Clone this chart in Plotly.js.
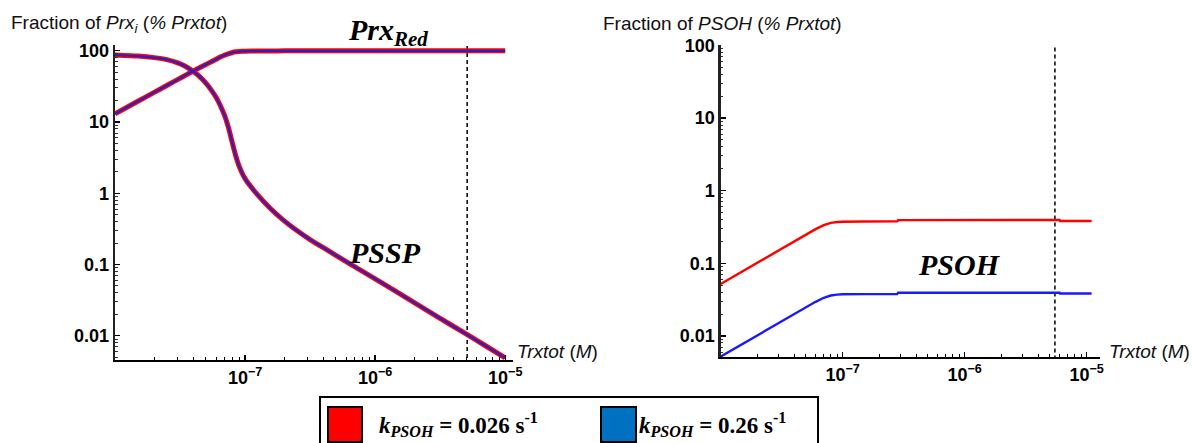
<!DOCTYPE html>
<html>
<head>
<meta charset="utf-8">
<script src="https://cdn.plot.ly/plotly-3.0.1.min.js"></script>
<style>
  html, body { margin: 0; padding: 0; background: #fff; }
  #chart { width: 1192px; height: 443px; }
</style>
</head>
<body>
<div id="chart"></div>
<script>
// Left panel: Prx fractions vs total Trx (both k values overlap)
const trxLeft = [1e-8, 1.5e-8, 2e-8, 2.5e-8, 3e-8, 3.5e-8, 4e-8, 4.5e-8, 5e-8, 5.5e-8, 6e-8, 6.5e-8,
                 7e-8, 7.5e-8, 8e-8, 8.5e-8, 9e-8, 1e-7, 1.26e-7, 1.58e-7, 2e-7, 2.5e-7, 3.16e-7, 4e-7,
                 6.3e-7, 1e-6, 2e-6, 3e-6, 5e-6, 7e-6, 1e-5];
const prxRed  = [13, 19.5, 26, 32.5, 39, 45.5, 52, 58, 64, 70, 76, 82,
                 87, 91, 94.5, 96.5, 97.5, 98.4, 99, 99.3, 99.5, 99.6, 99.6, 99.6,
                 99.6, 99.6, 99.6, 99.6, 99.6, 99.6, 99.6];
const pssp    = [87, 84, 80, 75, 68, 60, 51, 43, 35, 28, 22, 16.5,
                 12, 8.0, 5.0, 3.3, 2.4, 1.6, 0.93, 0.60, 0.41, 0.30, 0.224, 0.172,
                 0.104, 0.063, 0.0292, 0.0186, 0.0106, 0.0073, 0.0049];

// Right panel: PSOH fraction for the two k values
const trxRight = [1e-8, 2e-8, 3e-8, 4e-8, 5e-8, 6e-8, 7e-8, 8e-8, 9e-8, 1e-7, 1.5e-7,
                  2.8e-7, 2.85e-7, 1e-6, 6e-6, 6.05e-6, 1.1e-5];
const psohSlow = [0.052, 0.102, 0.152, 0.2, 0.25, 0.295, 0.335, 0.36, 0.37, 0.374, 0.376,
                  0.377, 0.393, 0.394, 0.394, 0.383, 0.383];
const psohFast = [0.0052, 0.0102, 0.0152, 0.02, 0.025, 0.0295, 0.0335, 0.036, 0.037, 0.0374, 0.0376,
                  0.0377, 0.0393, 0.0394, 0.0394, 0.0383, 0.0383];

// Axis ticks
const xTickVals = [1e-7, 1e-6, 1e-5];
const xTickText = ['10<sup>\u22127</sup>', '10<sup>\u22126</sup>', '10<sup>\u22125</sup>'];
const yTickVals = [0.01, 0.1, 1, 10, 100];
const yTickText = ['0.01', '0.1', '1', '10', '100'];

// Reference concentration marked with a dashed line in each panel
const refTrxLeft = [5.1e-6, 5.1e-6];
const refTrxRight = [5.5e-6, 5.5e-6];
const refSpan = [1e-3, 1e3];

const legendLabels = ['<i>k</i><sub><i>PSOH</i></sub> = 0.026 s<sup>-1</sup>',
                      '<i>k</i><sub><i>PSOH</i></sub> = 0.26 s<sup>-1</sup>'];
const RED = '#ff0000';
const BLUE_LINE = '#1a1aff';
const BLUE_CORE = '#2222cc';
const BLUE_KEY = '#0070c0';

const W = 1192, H = 443;
const px = x => x / W;
const py = y => 1 - y / H;

const SANS = '"Liberation Sans Narrow", "Arial Narrow", "Liberation Sans", Arial, sans-serif';
const SERIF = '"Liberation Serif", "Times New Roman", serif';

function minorTicks(lo, hi) {
  const out = [];
  for (let e = lo; e < hi; e++) {
    for (let k = 2; k <= 9; k++) out.push(k * Math.pow(10, e));
  }
  return out;
}

const dashLine = { color: '#000', width: 1.5, dash: '4px,3px' };
const smooth = { shape: 'spline', smoothing: 0.4 };

const traces = [
  { x: refTrxLeft, y: refSpan, xaxis: 'x', yaxis: 'y', mode: 'lines', line: dashLine },
  { x: refTrxRight, y: refSpan, xaxis: 'x2', yaxis: 'y2', mode: 'lines', line: dashLine },
  { x: trxLeft, y: prxRed, xaxis: 'x', yaxis: 'y', mode: 'lines', line: Object.assign({ color: RED, width: 5 }, smooth) },
  { x: trxLeft, y: pssp,   xaxis: 'x', yaxis: 'y', mode: 'lines', line: Object.assign({ color: RED, width: 5 }, smooth) },
  { x: trxLeft, y: prxRed, xaxis: 'x', yaxis: 'y', mode: 'lines', line: Object.assign({ color: BLUE_CORE, width: 2.2 }, smooth) },
  { x: trxLeft, y: pssp,   xaxis: 'x', yaxis: 'y', mode: 'lines', line: Object.assign({ color: BLUE_CORE, width: 2.2 }, smooth) },
  { x: trxRight, y: psohSlow, xaxis: 'x2', yaxis: 'y2', mode: 'lines', line: { color: RED, width: 2.4 } },
  { x: trxRight, y: psohFast, xaxis: 'x2', yaxis: 'y2', mode: 'lines', line: { color: BLUE_LINE, width: 2.4 } }
];

function xAxis(domain, range, anchor) {
  return {
    domain: domain, range: range, anchor: anchor, type: 'log',
    showline: true, linecolor: '#000', linewidth: 2,
    showgrid: false, zeroline: false,
    ticks: 'inside', ticklen: 5, tickwidth: 1.4, tickcolor: '#000',
    tickvals: xTickVals, ticktext: xTickText,
    tickfont: { family: SANS, size: 18, color: '#000', weight: 'bold' },
    minor: { tickvals: minorTicks(-8, -5).concat([2e-5]), ticks: 'inside', ticklen: 3, tickwidth: 1, tickcolor: '#000' }
  };
}
function yAxis(domain, range, anchor) {
  return {
    domain: domain, range: range, anchor: anchor, type: 'log',
    showline: true, linecolor: '#222', linewidth: 2.4,
    showgrid: false, zeroline: false,
    ticks: 'inside', ticklen: 5, tickwidth: 1.4, tickcolor: '#000',
    tickvals: yTickVals, ticktext: yTickText,
    tickfont: { family: SANS, size: 18, color: '#000', weight: 'bold' },
    minor: { tickvals: minorTicks(-3, 2), ticks: 'inside', ticklen: 2.5, tickwidth: 1, tickcolor: '#333' }
  };
}

const annotations = [
  { xref: 'paper', yref: 'paper', x: px(9), y: py(24), xanchor: 'left', yanchor: 'middle', showarrow: false,
    text: 'Fraction of <i>Prx</i><sub><i>i</i></sub> (<i>% Prxtot</i>)',
    font: { family: SANS, size: 19, color: '#111' } },
  { xref: 'paper', yref: 'paper', x: px(601), y: py(24), xanchor: 'left', yanchor: 'middle', showarrow: false,
    text: 'Fraction of <i>PSOH</i> (<i>% Prxtot</i>)',
    font: { family: SANS, size: 19, color: '#111' } },
  { xref: 'paper', yref: 'paper', x: px(515), y: py(351), xanchor: 'left', yanchor: 'middle', showarrow: false,
    text: '<i>Trxtot</i> (<i>M</i>)', font: { family: SANS, size: 19, color: '#111' } },
  { xref: 'paper', yref: 'paper', x: px(1107), y: py(351), xanchor: 'left', yanchor: 'middle', showarrow: false,
    text: '<i>Trxtot</i> (<i>M</i>)', font: { family: SANS, size: 19, color: '#111' } },
  { xref: 'paper', yref: 'paper', x: px(346), y: py(32), xanchor: 'left', yanchor: 'middle', showarrow: false,
    text: '<b><i>Prx</i></b><sub><b><i>Red</i></b></sub>', font: { family: SERIF, size: 30, color: '#000' } },
  { xref: 'paper', yref: 'paper', x: px(385), y: py(252), xanchor: 'center', yanchor: 'middle', showarrow: false,
    text: '<b><i>PSSP</i></b>', font: { family: SERIF, size: 30, color: '#000' } },
  { xref: 'paper', yref: 'paper', x: px(959), y: py(264), xanchor: 'center', yanchor: 'middle', showarrow: false,
    text: '<b><i>PSOH</i></b>', font: { family: SERIF, size: 30, color: '#000' } },
  { xref: 'paper', yref: 'paper', x: px(377), y: py(424), xanchor: 'left', yanchor: 'middle', showarrow: false,
    text: '<b>' + legendLabels[0] + '</b>', font: { family: SERIF, size: 23, color: '#000' } },
  { xref: 'paper', yref: 'paper', x: px(637), y: py(424), xanchor: 'left', yanchor: 'middle', showarrow: false,
    text: '<b>' + legendLabels[1] + '</b>', font: { family: SERIF, size: 23, color: '#000' } }
];

const shapes = [
  // key box and colour swatches
  { type: 'rect', xref: 'paper', yref: 'paper', x0: px(320), x1: px(818), y0: py(460), y1: py(397),
    line: { color: '#000', width: 2 }, fillcolor: 'rgba(0,0,0,0)' },
  { type: 'rect', xref: 'paper', yref: 'paper', x0: px(328), x1: px(362), y0: py(442), y1: py(407),
    line: { color: '#000', width: 2 }, fillcolor: RED },
  { type: 'rect', xref: 'paper', yref: 'paper', x0: px(601), x1: px(636), y0: py(442), y1: py(407),
    line: { color: '#000', width: 2 }, fillcolor: BLUE_KEY }
];

const layout = {
  width: W, height: H,
  margin: { l: 0, r: 0, t: 0, b: 0 },
  paper_bgcolor: '#fff', plot_bgcolor: 'rgba(0,0,0,0)',
  showlegend: false,
  xaxis: xAxis([px(115), px(513)], [-8, -4.94], 'y'),
  yaxis: yAxis([py(360), py(45)], [-2.34, 2.08], 'x'),
  xaxis2: xAxis([px(720.7), px(1100)], [-8, -4.89], 'y2'),
  yaxis2: yAxis([py(357), py(45)], [-2.29, 2.005], 'x2'),
  annotations: annotations,
  shapes: shapes
};

Plotly.newPlot('chart', traces, layout, { displayModeBar: false, staticPlot: true });
</script>
</body>
</html>
